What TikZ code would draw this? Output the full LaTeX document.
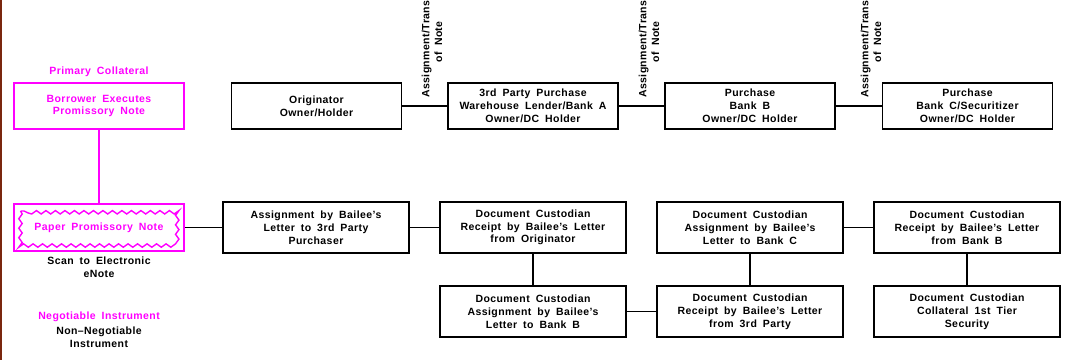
\documentclass[tikz,border=0pt]{standalone}
\usepackage{fontspec}
\setmainfont{Liberation Sans}[LetterSpace=4,WordSpace=1.8,BoldFont={* Bold}]
\usetikzlibrary{decorations.pathmorphing}
\definecolor{mag}{RGB}{255,0,255}
\definecolor{edge}{RGB}{122,38,14}
\tikzset{
  every node/.style={font=\bfseries\fontsize{10.5}{12.8}\selectfont, align=center, inner sep=0pt},
  box/.style={draw=black, line width=1.8pt, minimum width=186pt, minimum height=51pt},
  topbox/.style={draw=black, line width=1.8pt, minimum width=170pt, minimum height=46pt},
  magbox/.style={draw=mag, line width=1.8pt, minimum width=170pt, text=mag},
  link/.style={line width=1.8pt, black},
  maglink/.style={line width=1.8pt, mag},
  rot/.style={rotate=90, anchor=west},
}
\begin{document}
\begin{tikzpicture}[x=1pt,y=-1pt]
\useasboundingbox (0,0) rectangle (1068,360);
\fill[white] (0,0) rectangle (1068,360);
\clip (0,0) rectangle (1068,360);
\fill[edge] (0,0) rectangle (2,360);

% left column
\node[text=mag] (primlbl) at (99,72) {Primary Collateral};
\node[magbox, minimum height=46pt] (borrower) at (99,106) {Borrower Executes\\Promissory Note};
\node[magbox, minimum height=47pt] (paper) at (99,227.5) {};
\node[text=mag] (papertxt) at (99,227.5) {Paper Promissory Note};
\draw[mag, line width=1.4pt, decorate, decoration={snake, segment length=9.5pt, amplitude=1.7pt}]
  (20.5,211) rectangle (177.5,244);
\node (scan) at (99,267) {Scan to Electronic\\eNote};
\node[text=mag] (neg) at (99,317) {Negotiable Instrument};
\node (nonneg) at (99,337) {Non--Negotiable\\Instrument};
\draw[maglink] (borrower.south) -- (paper.north);

% top row
\node[topbox] (orig) at (316.5,106) {Originator\\Owner/Holder};
\node[topbox] (banka) at (533,106) {3rd Party Purchase\\Warehouse Lender/Bank A\\Owner/DC Holder};
\node[topbox] (bankb) at (750,106) {Purchase\\Bank B\\Owner/DC Holder};
\node[topbox] (bankc) at (967.5,106) {Purchase\\Bank C/Securitizer\\Owner/DC Holder};
\draw[link] (orig.east) -- (banka.west);
\draw[link] (banka.east) -- (bankb.west);
\draw[link] (bankb.east) -- (bankc.west);
\node[rot] (t1) at (432,98) {Assignment/Transfer\\of Note};
\node[rot] (t2) at (649,98) {Assignment/Transfer\\of Note};
\node[rot] (t3) at (871,98) {Assignment/Transfer\\of Note};

% bottom rows
\node[box] (assign) at (316,227.5) {Assignment by Bailee's\\Letter to 3rd Party\\Purchaser};
\node[box] (dcorig) at (533,227.5) {Document Custodian\\Receipt by Bailee's Letter\\from Originator};
\node[box] (dcb) at (533,311.5) {Document Custodian\\Assignment by Bailee's\\Letter to Bank B};
\node[box] (dcc) at (750,227.5) {Document Custodian\\Assignment by Bailee's\\Letter to Bank C};
\node[box] (dc3) at (750,311.5) {Document Custodian\\Receipt by Bailee's Letter\\from 3rd Party};
\node[box] (dcrb) at (967,227.5) {Document Custodian\\Receipt by Bailee's Letter\\from Bank B};
\node[box] (dccol) at (967,311.5) {Document Custodian\\Collateral 1st Tier\\Security};

\draw[link] (paper.east) -- (assign.west);
\draw[link] (assign.east) -- (dcorig.west);
\draw[link] (dcorig.south) -- (dcb.north);
\draw[link] (dcb.east) -- (dc3.west);
\draw[link] (dc3.north) -- (dcc.south);
\draw[link] (dcc.east) -- (dcrb.west);
\draw[link] (dcrb.south) -- (dccol.north);
\end{tikzpicture}
\end{document}
